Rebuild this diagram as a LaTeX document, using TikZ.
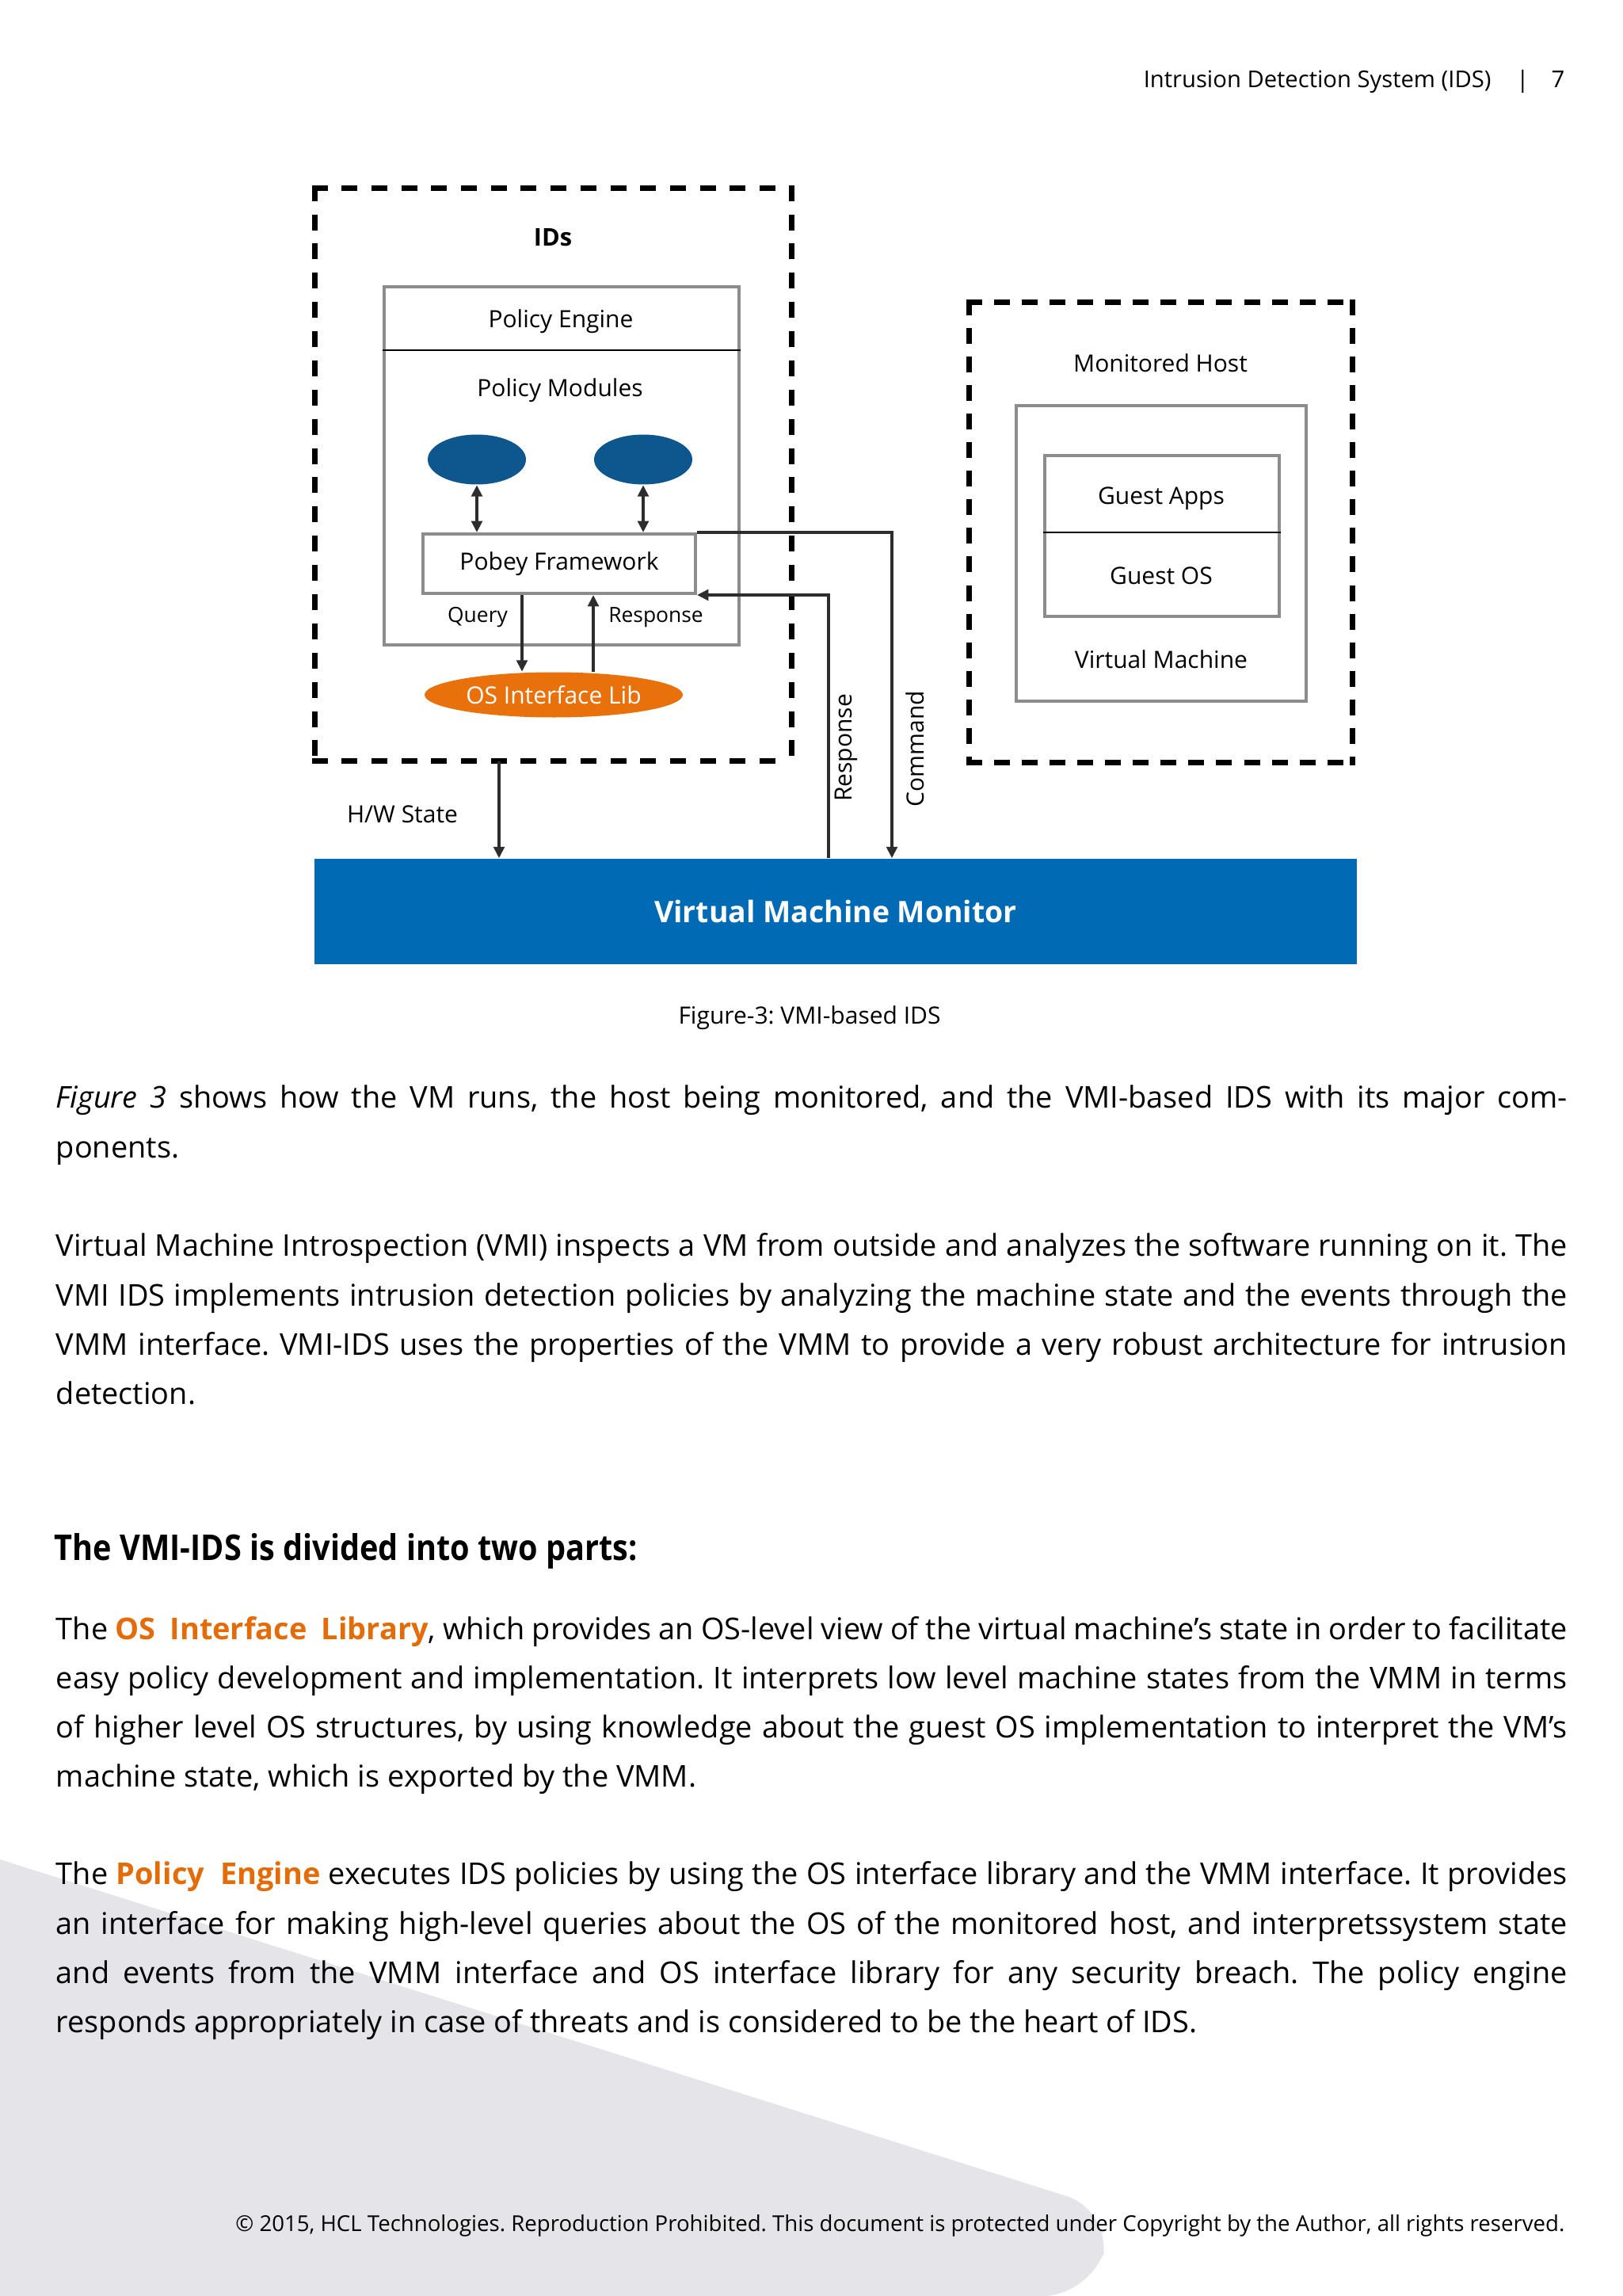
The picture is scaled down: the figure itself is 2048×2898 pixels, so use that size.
\documentclass[tikz,border=0pt]{standalone}
\usepackage{fontspec}
\setmainfont{Open Sans}
\newfontfamily\headfont{Open Sans}[FakeStretch=0.885]
\usetikzlibrary{arrows.meta,shapes.geometric,calc}
\definecolor{pagegray}{RGB}{229,229,233}
\definecolor{boxgray}{RGB}{140,140,140}
\definecolor{pmblue}{RGB}{14,87,142}
\definecolor{vmmblue}{RGB}{0,106,180}
\definecolor{libora}{RGB}{233,113,12}
\definecolor{txtora}{RGB}{227,108,9}
\definecolor{arrowc}{RGB}{45,45,45}
\newcommand{\ora}[1]{\textcolor{txtora}{\bfseries #1}}
\newcommand{\jline}[1]{\makebox[477pt][s]{#1}}
\frenchspacing
\begin{document}
\begin{tikzpicture}[x=0.25pt,y=-0.25pt,
  dia/.style={font=\fontsize{7.5}{9}\selectfont, inner sep=0pt},
  small/.style={font=\fontsize{6.6}{8}\selectfont, inner sep=0pt},
  body/.style={font=\fontsize{9.47}{11}\selectfont, inner sep=0pt, anchor=mid west},
  graybox/.style={draw=boxgray, line width=1pt, inner sep=0pt},
  divline/.style={draw=black, line width=0.7pt},
  conn/.style={draw=arrowc, line width=1.1pt, -{Triangle[length=3.6pt,width=3.4pt]}},
  conn2/.style={draw=arrowc, line width=1.1pt, {Triangle[length=3.6pt,width=3.4pt]}-{Triangle[length=3.6pt,width=3.4pt]}},
  dashside/.style={draw=black, line width=1.75pt, line cap=rect, dash pattern=on 3.25pt off #1},
]
\useasboundingbox (0,0) rectangle (2048,2898);
\fill[white] (0,0) rectangle (2048,2898);
% page background shape
\fill[pagegray] (0,2347) [rounded corners=16pt] -- (1407,2791) -- (1380,2898) [sharp corners] -- (0,2898) -- cycle;

% header
\node[font=\fontsize{7.3}{9}\selectfont, inner sep=0pt, anchor=mid east] (hdr) at (1976,100) {Intrusion Detection System (IDS)\hspace{8pt}|\hspace{7pt}7};

% ---------------- diagram ----------------
\node[minimum width=150.25pt, minimum height=180.5pt, inner sep=0pt] (ids) at (698.5,599) {};
\draw[dashside=6.17pt] (ids.north west) -- (ids.north east);
\draw[dashside=6.17pt] (ids.south west) -- (ids.south east);
\draw[dashside=5.97pt] (ids.north west) -- (ids.south west);
\draw[dashside=5.97pt] (ids.north east) -- (ids.south east);
\node[dia, font=\fontsize{7.7}{9}\selectfont\bfseries] (idslbl) at (698,300) {IDs};

\node[graybox, minimum width=112pt, minimum height=113pt] (pe) at (709,588) {};
\coordinate (pediv) at (0,442);
\draw[divline] (pe.west |- pediv) -- (pe.east |- pediv);
\node[dia] (petxt) at (708,406) {Policy Engine};
\node[dia] (pmtxt) at (707,493) {Policy Modules};
\node[ellipse, fill=pmblue, minimum width=31pt, minimum height=15.75pt, inner sep=0pt] (pm1) at (602,580) {};
\node[ellipse, fill=pmblue, minimum width=31pt, minimum height=15.75pt, inner sep=0pt] (pm2) at (812,580) {};
\node[graybox, fill=white, minimum width=86pt, minimum height=18.75pt, dia] (pobey) at (706,711.5) {Pobey Framework};
\draw[conn2] (pm1.south) -- (pm1.south |- pobey.north);
\draw[conn2] (pm2.south) -- (pm2.south |- pobey.north);

\node[ellipse, fill=libora, minimum width=81.5pt, minimum height=14.25pt, inner sep=0pt, dia, text=white] (oslib) at (699,877) {OS Interface Lib};
\coordinate (qx) at (659,0);
\coordinate (rx) at (749,0);
\draw[conn] (pobey.south -| qx) -- (oslib.north -| qx);
\draw[conn] (oslib.north -| rx) -- (pobey.south -| rx);
\node[small] (qlbl) at (603,779) {Query};
\node[small] (rlbl) at (828,779) {Response};

% VMM
\node[fill=vmmblue, minimum width=329pt, minimum height=33.25pt, inner sep=0pt, text=white, font=\fontsize{9.35}{11}\selectfont\bfseries] (vmm) at (1055,1150.5) {Virtual Machine Monitor};

\coordinate (hwx) at (630,0);
\coordinate (resx) at (1046,0);
\coordinate (cmdx) at (1126,0);
\draw[conn] (ids.south -| hwx) -- (vmm.north -| hwx);
\node[dia] (hwlbl) at (508,1028) {H/W State};
\draw[conn] (vmm.north -| resx) |- (pobey.south east);
\draw[conn] (pobey.north east) -| (vmm.north -| cmdx);
\node[dia, rotate=90] (reslbl) at (1068,944) {Response};
\node[dia, rotate=90] (cmdlbl) at (1155,945) {Command};

% Monitored host
\node[minimum width=120.75pt, minimum height=145pt, inner sep=0pt] (mh) at (1465.5,672) {};
\draw[dashside=5.52pt] (mh.north west) -- (mh.north east);
\draw[dashside=5.52pt] (mh.south west) -- (mh.south east);
\draw[dashside=5.77pt] (mh.north west) -- (mh.south west);
\draw[dashside=5.77pt] (mh.north east) -- (mh.south east);
\node[dia] (mhlbl) at (1465,458) {Monitored Host};
\node[graybox, minimum width=91.5pt, minimum height=93.25pt] (vm) at (1466,698.5) {};
\node[graybox, minimum width=74pt, minimum height=50.75pt] (guest) at (1467,676.5) {};
\coordinate (gdiv) at (0,672);
\draw[divline] (guest.west |- gdiv) -- (guest.east |- gdiv);
\node[dia] (gapps) at (1466,629) {Guest Apps};
\node[dia] (gos) at (1466,727) {Guest OS};
\node[dia] (vmlbl) at (1466,832) {Virtual Machine};

% caption
\node[dia] (cap) at (1022,1285) {Figure-3: VMI-based IDS};

% ---------------- body text ----------------
\node[body] (l1) at (70,1388) {\jline{\textit{Figure 3} shows how the VM runs, the host being monitored, and the VMI-based IDS with its major com-}};
\node[body] (l2) at (70,1451) {ponents.};
\node[body] (l3) at (70,1575) {\jline{Virtual Machine Introspection (VMI) inspects a VM from outside and analyzes the software running on it. The}};
\node[body] (l4) at (70,1638) {\jline{VMI IDS implements intrusion detection policies by analyzing the machine state and the events through the}};
\node[body] (l5) at (70,1700) {\jline{VMM interface. VMI-IDS uses the properties of the VMM to provide a very robust architecture for intrusion}};
\node[body] (l6) at (70,1762) {detection.};
\node[body, font=\fontsize{11.2}{13}\headfont\bfseries] (hd) at (68,1959) {The VMI-IDS is divided into two parts:};
\node[body] (l7) at (70,2059) {\jline{The \ora{OS\hspace{0.25em} Interface\hspace{0.25em} Library}, which provides an OS-level view of the virtual machine’s state in order to facilitate}};
\node[body] (l8) at (70,2121) {\jline{easy policy development and implementation. It interprets low level machine states from the VMM in terms}};
\node[body] (l9) at (70,2183) {\jline{of higher level OS structures, by using knowledge about the guest OS implementation to interpret the VM’s}};
\node[body] (l10) at (70,2245) {machine state, which is exported by the VMM.};
\node[body] (l11) at (70,2368) {\jline{The \ora{Policy\hspace{0.25em} Engine} executes IDS policies by using the OS interface library and the VMM interface. It provides}};
\node[body] (l12) at (70,2431) {\jline{an interface for making high-level queries about the OS of the monitored host, and interpretssystem state}};
\node[body] (l13) at (70,2493) {\jline{and events from the VMM interface and OS interface library for any security breach. The policy engine}};
\node[body] (l14) at (70,2555) {responds appropriately in case of threats and is considered to be the heart of IDS.};

\node[font=\fontsize{6.9}{8}\selectfont, inner sep=0pt, anchor=mid east] (ftr) at (1976,2806) {© 2015, HCL Technologies. Reproduction Prohibited. This document is protected under Copyright by the Author, all rights reserved.};
\end{tikzpicture}
\end{document}
